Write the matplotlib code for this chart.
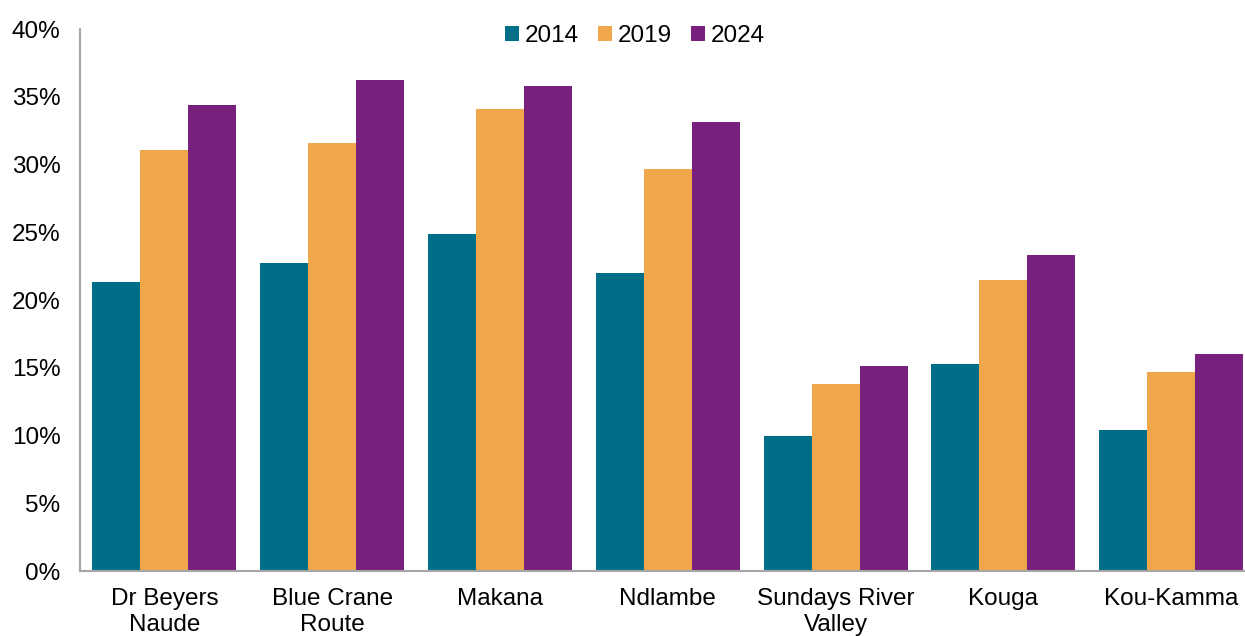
import numpy as np
import matplotlib
matplotlib.use("Agg")
import matplotlib.pyplot as plt
from matplotlib.ticker import FuncFormatter

plt.rcParams['font.family'] = ['Liberation Sans', 'DejaVu Sans']

# data
municipalities = ["Dr Beyers\nNaude", "Blue Crane\nRoute", "Makana", "Ndlambe",
                  "Sundays River\nValley", "Kouga", "Kou-Kamma"]
years = ["2014", "2019", "2024"]
share_2014 = [21.3, 22.7, 24.9, 22.0, 10.0, 15.3, 10.4]
share_2019 = [31.1, 31.6, 34.1, 29.7, 13.8, 21.5, 14.7]
share_2024 = [34.4, 36.2, 35.8, 33.1, 15.1, 23.3, 16.0]

colors = ["#006E89", "#F0A64A", "#77207D"]

fig = plt.figure(figsize=(12.45, 6.36), dpi=100)
ax = fig.add_axes([0.0643, 0.1022, 0.9357, 0.8522])

x = np.arange(len(municipalities))
w = 0.286
for i, (vals, yr) in enumerate(zip([share_2014, share_2019, share_2024], years)):
    ax.bar(x + (i - 1) * w, vals, width=w, color=colors[i], label=yr)

ax.set_xlim(-0.503, 6.44)
ax.set_ylim(0, 40)
ax.set_yticks(range(0, 41, 5))
ax.yaxis.set_major_formatter(FuncFormatter(lambda v, p: f"{v:.0f}%"))
ax.set_xticks(x)
ax.set_xticklabels(municipalities, linespacing=1.25)
ax.tick_params(axis='both', length=0, labelsize=17.5)
ax.tick_params(axis='y', pad=14)
ax.tick_params(axis='x', pad=12)

for s in ['top', 'right']:
    ax.spines[s].set_visible(False)
for s in ['left', 'bottom']:
    ax.spines[s].set_color('#A6A6A6')
    ax.spines[s].set_linewidth(1.5)

fig.legend(loc='upper center', bbox_to_anchor=(0.51, 0.995), ncol=3, frameon=False,
           fontsize=17.5, handlelength=0.55, handleheight=0.55, handletextpad=0.25,
           columnspacing=0.8)

fig.savefig("out.png", dpi=100)
